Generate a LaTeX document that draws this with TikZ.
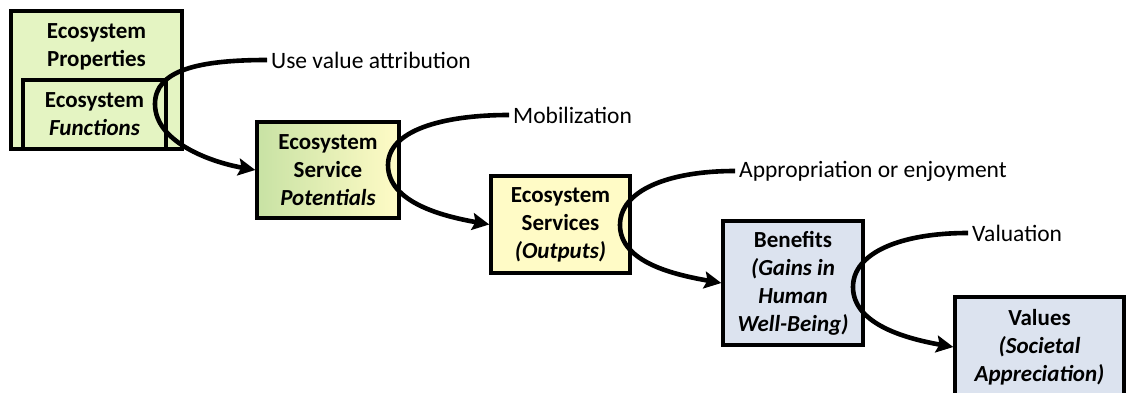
\documentclass[tikz,border=0pt]{standalone}
\usepackage{fontspec}
\setmainfont{Carlito}
\usetikzlibrary{arrows.meta}
\definecolor{greenfill}{HTML}{E4F4C2}
\definecolor{greendark}{HTML}{C8E2A4}
\definecolor{yellowfill}{HTML}{FFFBC6}
\definecolor{bluefill}{HTML}{DCE3EF}
\tikzset{
  boxfont/.style={font=\fontsize{23}{28}\selectfont\bfseries},
  box/.style={draw=black, line width=3.4pt, inner sep=0pt, align=center, boxfont},
  lbl/.style={anchor=west, inner sep=4pt, font=\fontsize{23.5}{26}\selectfont},
  flow/.style={line width=4.6pt, -{Stealth[length=17pt,width=17pt,inset=3pt]}}
}
\begin{document}
\begin{tikzpicture}[x=1pt,y=-1pt]
\useasboundingbox (0,0) rectangle (1126,393);
\clip (0,0) rectangle (1126,393);
% box 1 outer and inner
\node[box, fill=greenfill, minimum width=171pt, minimum height=138pt] (b1) at (96.5,80) {};
\node[align=center, inner sep=0pt, boxfont] (b1t) at (96.5,47) {Ecosystem\\Properties};
\node[box, fill=greenfill, minimum width=143pt, minimum height=69pt] (b1i) at (94.5,114.5) {Ecosystem\\\textit{Functions}};
% box 2
\node[box, left color=greendark, right color=yellowfill, minimum width=142pt, minimum height=96pt] (b2) at (328,170) {Ecosystem\\Service\\\textit{Potentials}};
% box 3
\node[box, fill=yellowfill, minimum width=139pt, minimum height=97pt] (b3) at (560.5,224.5) {Ecosystem\\Services\\\textit{(Outputs)}};
% box 4
\node[box, fill=bluefill, minimum width=140pt, minimum height=124pt] (b4) at (793,283) {Benefits\\\textit{(Gains in}\\\textit{Human}\\\textit{Well-Being)}};
% box 5
\node[box, fill=bluefill, minimum width=169pt, minimum height=100pt] (b5) at (1039.5,347) {Values\\\textit{(Societal}\\\textit{Appreciation)}};
% labels
\node[lbl] (l1) at (267,60) {Use value attribution};
\node[lbl] (l2) at (509,115) {Mobilization};
\node[lbl] (l3) at (735,171) {Appropriation or enjoyment};
\node[lbl] (l4) at (968,233) {Valuation};
% turning points
\coordinate (k1) at (155,104);
\coordinate (k2) at (388,165);
\coordinate (k3) at (620,225);
\coordinate (k4) at (853,287);
% connectors
\draw[flow] (l1.west) .. controls +(-68,0) and +(0,-34) .. (k1) .. controls +(0,38) and +(-45,-8) .. (b2.west);
\draw[flow] (l2.west) .. controls +(-68,0) and +(0,-34) .. (k2) .. controls +(0,38) and +(-45,-8) .. (b3.west);
\draw[flow] (l3.west) .. controls +(-68,0) and +(0,-34) .. (k3) .. controls +(0,38) and +(-45,-8) .. (b4.west);
\draw[flow] (l4.west) .. controls +(-68,0) and +(0,-34) .. (k4) .. controls +(0,38) and +(-45,-8) .. (b5.west);
\end{tikzpicture}
\end{document}
